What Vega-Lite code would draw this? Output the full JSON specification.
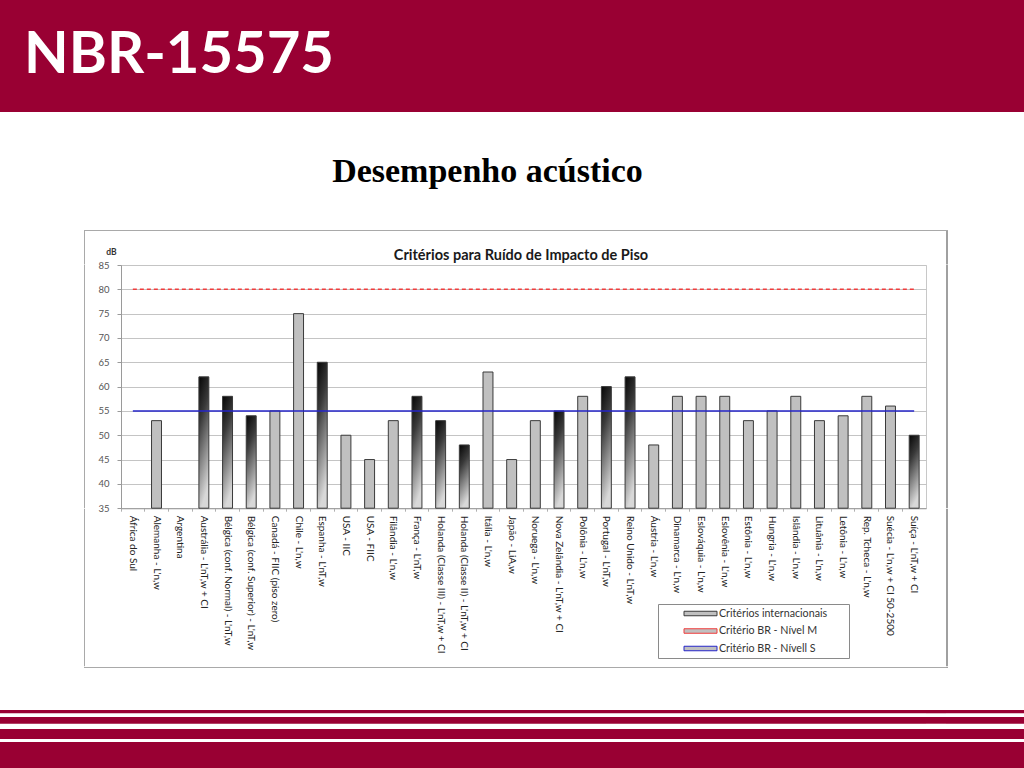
{
  "$schema": "https://vega.github.io/schema/vega-lite/v6.json",
  "padding": 0,
  "background": "#ffffff",
  "config": {"view": {"stroke": null}, "font": "Lato"},
  "datasets": {
    "criterios": [
      {"pais": "África do Sul", "valor": null, "nivel_M": 80, "nivel_S": 55},
      {"pais": "Alemanha - L'n,w", "valor": 53, "nivel_M": 80, "nivel_S": 55},
      {"pais": "Argentina", "valor": null, "nivel_M": 80, "nivel_S": 55},
      {"pais": "Austrália - L'nT,w + CI", "valor": 62, "nivel_M": 80, "nivel_S": 55},
      {"pais": "Bélgica (conf. Normal) - L'nT,w", "valor": 58, "nivel_M": 80, "nivel_S": 55},
      {"pais": "Bélgica (conf. Superior) - L'nT,w", "valor": 54, "nivel_M": 80, "nivel_S": 55},
      {"pais": "Canadá - FIIC (piso zero)", "valor": 55, "nivel_M": 80, "nivel_S": 55},
      {"pais": "Chile - L'n,w", "valor": 75, "nivel_M": 80, "nivel_S": 55},
      {"pais": "Espanha - L'nT,w", "valor": 65, "nivel_M": 80, "nivel_S": 55},
      {"pais": "USA - IIC", "valor": 50, "nivel_M": 80, "nivel_S": 55},
      {"pais": "USA - FIIC", "valor": 45, "nivel_M": 80, "nivel_S": 55},
      {"pais": "Filândia - L'n,w", "valor": 53, "nivel_M": 80, "nivel_S": 55},
      {"pais": "França - L'nT,w", "valor": 58, "nivel_M": 80, "nivel_S": 55},
      {"pais": "Holanda (Classe III) - L'nT,w + CI", "valor": 53, "nivel_M": 80, "nivel_S": 55},
      {"pais": "Holanda (Classe II) - L'nT,w + CI", "valor": 48, "nivel_M": 80, "nivel_S": 55},
      {"pais": "Itália - L'n,w", "valor": 63, "nivel_M": 80, "nivel_S": 55},
      {"pais": "Japão - LiA,w", "valor": 45, "nivel_M": 80, "nivel_S": 55},
      {"pais": "Noruega - L'n,w", "valor": 53, "nivel_M": 80, "nivel_S": 55},
      {"pais": "Nova Zelândia - L'nT,w + CI", "valor": 55, "nivel_M": 80, "nivel_S": 55},
      {"pais": "Polônia - L'n,w", "valor": 58, "nivel_M": 80, "nivel_S": 55},
      {"pais": "Portugal - L'nT,w", "valor": 60, "nivel_M": 80, "nivel_S": 55},
      {"pais": "Reino Unido - L'nT,w", "valor": 62, "nivel_M": 80, "nivel_S": 55},
      {"pais": "Áustria - L'n,w", "valor": 48, "nivel_M": 80, "nivel_S": 55},
      {"pais": "Dinamarca - L'n,w", "valor": 58, "nivel_M": 80, "nivel_S": 55},
      {"pais": "Eslováquia - L'n,w", "valor": 58, "nivel_M": 80, "nivel_S": 55},
      {"pais": "Eslovênia - L'n,w", "valor": 58, "nivel_M": 80, "nivel_S": 55},
      {"pais": "Estônia - L'n,w", "valor": 53, "nivel_M": 80, "nivel_S": 55},
      {"pais": "Hungria - L'n,w", "valor": 55, "nivel_M": 80, "nivel_S": 55},
      {"pais": "Islândia - L'n,w", "valor": 58, "nivel_M": 80, "nivel_S": 55},
      {"pais": "Lituânia - L'n,w", "valor": 53, "nivel_M": 80, "nivel_S": 55},
      {"pais": "Letônia - L'n,w", "valor": 54, "nivel_M": 80, "nivel_S": 55},
      {"pais": "Rep. Tcheca - L'n,w", "valor": 58, "nivel_M": 80, "nivel_S": 55},
      {"pais": "Suécia - L'n,w + CI 50-2500", "valor": 56, "nivel_M": 80, "nivel_S": 55},
      {"pais": "Suíça - L'nT,w + CI", "valor": 50, "nivel_M": 80, "nivel_S": 55}
    ]
  },
  "columns": 7,
  "align": "each",
  "spacing": 0,
  "bounds": "flush",
  "concat": [
    {"width": 84, "height": 112, "view": {"fill": "#990033", "stroke": null}, "data": {"values": []}, "mark": "rect"},
    {"width": 1, "height": 112, "view": {"fill": "#990033", "stroke": null}, "data": {"values": []}, "mark": "rect"},
    {"width": 36, "height": 112, "view": {"fill": "#990033", "stroke": null}, "data": {"values": []}, "mark": "rect"},
    {"width": 805, "height": 112, "view": {"fill": "#990033", "stroke": null}, "data": {"values": [{"texto": "NBR-15575"}]}, "mark": {"type": "text", "font": "Lato", "fontWeight": "bold", "fontSize": 58, "color": "#ffffff", "baseline": "alphabetic", "align": "center", "dy": 17, "dx": -344.5}, "encoding": {"text": {"field": "texto", "type": "nominal"}}},
    {"width": 20, "height": 112, "view": {"fill": "#990033", "stroke": null}, "data": {"values": []}, "mark": "rect"},
    {"width": 2, "height": 112, "view": {"fill": "#990033", "stroke": null}, "data": {"values": []}, "mark": "rect"},
    {"width": 76, "height": 112, "view": {"fill": "#990033", "stroke": null}, "data": {"values": []}, "mark": "rect"},

    {"width": 84, "height": 118, "data": {"values": []}, "mark": "rect"},
    {"width": 1, "height": 118, "data": {"values": []}, "mark": "rect"},
    {"width": 36, "height": 118, "data": {"values": []}, "mark": "rect"},
    {"width": 805, "height": 118, "data": {"values": [{"texto": "Desempenho acústico"}]}, "mark": {"type": "text", "font": "Liberation Serif", "fontWeight": "bold", "fontSize": 34, "color": "#000000", "baseline": "alphabetic", "align": "center", "dy": 10.7, "dx": -36}, "encoding": {"text": {"field": "texto", "type": "nominal"}}},
    {"width": 20, "height": 118, "data": {"values": []}, "mark": "rect"},
    {"width": 2, "height": 118, "data": {"values": []}, "mark": "rect"},
    {"width": 76, "height": 118, "data": {"values": []}, "mark": "rect"},

    {"width": 84, "height": 1, "data": {"values": []}, "mark": "rect"},
    {"width": 1, "height": 1, "view": {"fill": "#a9a9a9", "stroke": null}, "data": {"values": []}, "mark": "rect"},
    {"width": 36, "height": 1, "view": {"fill": "#a9a9a9", "stroke": null}, "data": {"values": []}, "mark": "rect"},
    {"width": 805, "height": 1, "view": {"fill": "#a9a9a9", "stroke": null}, "data": {"values": []}, "mark": "rect"},
    {"width": 20, "height": 1, "view": {"fill": "#a9a9a9", "stroke": null}, "data": {"values": []}, "mark": "rect"},
    {"width": 2, "height": 1, "view": {"fill": "#a9a9a9", "stroke": null}, "data": {"values": []}, "mark": "rect"},
    {"width": 76, "height": 1, "data": {"values": []}, "mark": "rect"},

    {"width": 84, "height": 33.5, "data": {"values": []}, "mark": "rect"},
    {"width": 1, "height": 33.5, "view": {"fill": "#a9a9a9", "stroke": null}, "data": {"values": []}, "mark": "rect"},
    {"width": 36, "height": 33.5, "data": {"values": []}, "mark": "rect"},
    {"width": 805, "height": 33.5, "data": {"values": [{"texto": "Critérios para Ruído de Impacto de Piso"}]}, "mark": {"type": "text", "font": "Lato", "fontWeight": "bold", "fontSize": 14.5, "color": "#1a1a1a", "baseline": "alphabetic", "align": "center", "dy": 12.25, "dx": -2.5}, "encoding": {"text": {"field": "texto", "type": "nominal"}}},
    {"width": 20, "height": 33.5, "data": {"values": []}, "mark": "rect"},
    {"width": 2, "height": 33.5, "view": {"fill": "#a0a0a0", "stroke": null}, "data": {"values": []}, "mark": "rect"},
    {"width": 76, "height": 33.5, "data": {"values": []}, "mark": "rect"},

    {"width": 84, "height": 243.2, "data": {"values": []}, "mark": "rect"},
    {"width": 1, "height": 243.2, "view": {"fill": "#a9a9a9", "stroke": null}, "data": {"values": []}, "mark": "rect"},
    {"width": 36, "height": 243.2, "data": {"values": []}, "mark": "rect"},
    {
      "width": 805,
      "height": 243.2,
      "view": {"stroke": "#c8c8c8"},
      "data": {"name": "criterios"},
      "encoding": {
        "x": {
          "field": "pais", "type": "nominal", "sort": null, "title": null,
          "scale": {
            "domain": ["África do Sul", "Alemanha - L'n,w", "Argentina", "Austrália - L'nT,w + CI", "Bélgica (conf. Normal) - L'nT,w", "Bélgica (conf. Superior) - L'nT,w", "Canadá - FIIC (piso zero)", "Chile - L'n,w", "Espanha - L'nT,w", "USA - IIC", "USA - FIIC", "Filândia - L'n,w", "França - L'nT,w", "Holanda (Classe III) - L'nT,w + CI", "Holanda (Classe II) - L'nT,w + CI", "Itália - L'n,w", "Japão - LiA,w", "Noruega - L'n,w", "Nova Zelândia - L'nT,w + CI", "Polônia - L'n,w", "Portugal - L'nT,w", "Reino Unido - L'nT,w", "Áustria - L'n,w", "Dinamarca - L'n,w", "Eslováquia - L'n,w", "Eslovênia - L'n,w", "Estônia - L'n,w", "Hungria - L'n,w", "Islândia - L'n,w", "Lituânia - L'n,w", "Letônia - L'n,w", "Rep. Tcheca - L'n,w", "Suécia - L'n,w + CI 50-2500", "Suíça - L'nT,w + CI"],
            "paddingInner": 0.58, "paddingOuter": 0.29
          },
          "axis": {"labelAngle": 90, "labelAlign": "left", "labelBaseline": "middle", "labelFont": "Lato", "labelFontSize": 10, "labelColor": "#222222", "labelPadding": 4, "labelLimit": 220, "labelOverlap": false, "tickSize": 3, "tickColor": "#b0b0b0", "domainColor": "#9a9a9a", "bandPosition": -0.69, "grid": false}
        }
      },
      "layer": [
        {
          "mark": {"type": "bar", "strokeWidth": 1},
          "encoding": {
            "y": {"field": "valor", "type": "quantitative", "title": "dB",
              "scale": {"domain": [35, 85], "nice": false, "zero": false},
              "axis": {"values": [35, 40, 45, 50, 55, 60, 65, 70, 75, 80, 85], "labelOverlap": false, "grid": true, "gridColor": "#c4c4c4", "gridWidth": 1, "domainColor": "#9a9a9a", "tickColor": "#9a9a9a", "tickSize": 4, "labelFont": "Lato", "labelFontSize": 9.5, "labelColor": "#555555", "labelPadding": 8, "titleAngle": 0, "titleX": -10, "titleY": -10.5, "titleAlign": "center", "titleBaseline": "alphabetic", "titleFont": "Lato", "titleFontSize": 8.5, "titleFontWeight": "bold", "titleColor": "#333333"}},
            "y2": {"datum": 35},
            "fill": {
              "condition": {"test": "indexof(datum.pais, \"L'nT\") >= 0", "value": {"gradient": "linear", "x1": 0, "y1": 0, "x2": 0.25, "y2": 1, "stops": [{"offset": 0, "color": "#050505"}, {"offset": 0.35, "color": "#3a3a3a"}, {"offset": 1, "color": "#d8d8d8"}]}},
              "value": "#c0c0c0"
            },
            "stroke": {
              "datum": "Critérios internacionais", "type": "nominal",
              "scale": {"domain": ["Critérios internacionais", "Critério BR - Nível M", "Critério BR - Nívell S"], "range": ["#3a3a3a", "#f03c3c", "#2424c8"]},
              "legend": {
                "orient": "none", "legendX": 658, "legendY": 604, "direction": "vertical",
                "title": "\u00a0", "titleOrient": "right", "titlePadding": 17.5, "titleFontSize": 10,
                "padding": 4, "rowPadding": 5.5, "strokeColor": "#8a8a8a", "fillColor": "#ffffff",
                "labelFont": "Lato", "labelFontSize": 10.7, "labelColor": "#333333", "labelOffset": 46,
                "symbolSize": 100, "symbolType": "M3.3,-0.45H9.9V0.45H3.3Z", "symbolStrokeWidth": 1
              }
            }
          }
        },
        {
          "mark": {"type": "line", "strokeDash": [4, 3], "strokeWidth": 1.6},
          "encoding": {
            "y": {"field": "nivel_M", "type": "quantitative", "title": "dB", "scale": {"domain": [35, 85], "nice": false, "zero": false},
              "axis": {"values": [35, 40, 45, 50, 55, 60, 65, 70, 75, 80, 85], "labelOverlap": false, "grid": true, "gridColor": "#c4c4c4", "gridWidth": 1, "domainColor": "#9a9a9a", "tickColor": "#9a9a9a", "tickSize": 4, "labelFont": "Lato", "labelFontSize": 9.5, "labelColor": "#555555", "labelPadding": 8, "titleAngle": 0, "titleX": -10, "titleY": -10.5, "titleAlign": "center", "titleBaseline": "alphabetic", "titleFont": "Lato", "titleFontSize": 8.5, "titleFontWeight": "bold", "titleColor": "#333333"}},
            "stroke": {"datum": "Critério BR - Nível M", "type": "nominal", "legend": null}
          }
        },
        {
          "mark": {"type": "line", "strokeWidth": 1.5},
          "encoding": {
            "y": {"field": "nivel_S", "type": "quantitative", "title": "dB", "scale": {"domain": [35, 85], "nice": false, "zero": false},
              "axis": {"values": [35, 40, 45, 50, 55, 60, 65, 70, 75, 80, 85], "labelOverlap": false, "grid": true, "gridColor": "#c4c4c4", "gridWidth": 1, "domainColor": "#9a9a9a", "tickColor": "#9a9a9a", "tickSize": 4, "labelFont": "Lato", "labelFontSize": 9.5, "labelColor": "#555555", "labelPadding": 8, "titleAngle": 0, "titleX": -10, "titleY": -10.5, "titleAlign": "center", "titleBaseline": "alphabetic", "titleFont": "Lato", "titleFontSize": 8.5, "titleFontWeight": "bold", "titleColor": "#333333"}},
            "stroke": {"datum": "Critério BR - Nívell S", "type": "nominal", "legend": null}
          }
        }
      ]
    },
    {"width": 20, "height": 243.2, "data": {"values": []}, "mark": "rect"},
    {"width": 2, "height": 243.2, "view": {"fill": "#a0a0a0", "stroke": null}, "data": {"values": []}, "mark": "rect"},
    {"width": 76, "height": 243.2, "data": {"values": []}, "mark": "rect"},

    {"width": 84, "height": 157.3, "data": {"values": []}, "mark": "rect"},
    {"width": 1, "height": 157.3, "view": {"fill": "#a9a9a9", "stroke": null}, "data": {"values": []}, "mark": "rect"},
    {"width": 36, "height": 157.3, "data": {"values": []}, "mark": "rect"},
    {"width": 805, "height": 157.3, "data": {"values": []}, "mark": "rect"},
    {"width": 20, "height": 157.3, "data": {"values": []}, "mark": "rect"},
    {"width": 2, "height": 157.3, "view": {"fill": "#a0a0a0", "stroke": null}, "data": {"values": []}, "mark": "rect"},
    {"width": 76, "height": 157.3, "data": {"values": []}, "mark": "rect"},

    {"width": 84, "height": 1, "data": {"values": []}, "mark": "rect"},
    {"width": 1, "height": 1, "view": {"fill": "#a9a9a9", "stroke": null}, "data": {"values": []}, "mark": "rect"},
    {"width": 36, "height": 1, "view": {"fill": "#a9a9a9", "stroke": null}, "data": {"values": []}, "mark": "rect"},
    {"width": 805, "height": 1, "view": {"fill": "#a9a9a9", "stroke": null}, "data": {"values": []}, "mark": "rect"},
    {"width": 20, "height": 1, "view": {"fill": "#a9a9a9", "stroke": null}, "data": {"values": []}, "mark": "rect"},
    {"width": 2, "height": 1, "view": {"fill": "#a0a0a0", "stroke": null}, "data": {"values": []}, "mark": "rect"},
    {"width": 76, "height": 1, "data": {"values": []}, "mark": "rect"},

    {"width": 84, "height": 41.7, "data": {"values": []}, "mark": "rect"},
    {"width": 1, "height": 41.7, "data": {"values": []}, "mark": "rect"},
    {"width": 36, "height": 41.7, "data": {"values": []}, "mark": "rect"},
    {"width": 805, "height": 41.7, "data": {"values": []}, "mark": "rect"},
    {"width": 20, "height": 41.7, "data": {"values": []}, "mark": "rect"},
    {"width": 2, "height": 41.7, "data": {"values": []}, "mark": "rect"},
    {"width": 76, "height": 41.7, "data": {"values": []}, "mark": "rect"},

    {"width": 84, "height": 3.3, "view": {"fill": "#990033", "stroke": null}, "data": {"values": []}, "mark": "rect"},
    {"width": 1, "height": 3.3, "view": {"fill": "#990033", "stroke": null}, "data": {"values": []}, "mark": "rect"},
    {"width": 36, "height": 3.3, "view": {"fill": "#990033", "stroke": null}, "data": {"values": []}, "mark": "rect"},
    {"width": 805, "height": 3.3, "view": {"fill": "#990033", "stroke": null}, "data": {"values": []}, "mark": "rect"},
    {"width": 20, "height": 3.3, "view": {"fill": "#990033", "stroke": null}, "data": {"values": []}, "mark": "rect"},
    {"width": 2, "height": 3.3, "view": {"fill": "#990033", "stroke": null}, "data": {"values": []}, "mark": "rect"},
    {"width": 76, "height": 3.3, "view": {"fill": "#990033", "stroke": null}, "data": {"values": []}, "mark": "rect"},

    {"width": 84, "height": 2.3, "data": {"values": []}, "mark": "rect"},
    {"width": 1, "height": 2.3, "data": {"values": []}, "mark": "rect"},
    {"width": 36, "height": 2.3, "data": {"values": []}, "mark": "rect"},
    {"width": 805, "height": 2.3, "data": {"values": []}, "mark": "rect"},
    {"width": 20, "height": 2.3, "data": {"values": []}, "mark": "rect"},
    {"width": 2, "height": 2.3, "data": {"values": []}, "mark": "rect"},
    {"width": 76, "height": 2.3, "data": {"values": []}, "mark": "rect"},

    {"width": 84, "height": 6.7, "view": {"fill": "#990033", "stroke": null}, "data": {"values": []}, "mark": "rect"},
    {"width": 1, "height": 6.7, "view": {"fill": "#990033", "stroke": null}, "data": {"values": []}, "mark": "rect"},
    {"width": 36, "height": 6.7, "view": {"fill": "#990033", "stroke": null}, "data": {"values": []}, "mark": "rect"},
    {"width": 805, "height": 6.7, "view": {"fill": "#990033", "stroke": null}, "data": {"values": []}, "mark": "rect"},
    {"width": 20, "height": 6.7, "view": {"fill": "#990033", "stroke": null}, "data": {"values": []}, "mark": "rect"},
    {"width": 2, "height": 6.7, "view": {"fill": "#990033", "stroke": null}, "data": {"values": []}, "mark": "rect"},
    {"width": 76, "height": 6.7, "view": {"fill": "#990033", "stroke": null}, "data": {"values": []}, "mark": "rect"},

    {"width": 84, "height": 4.3, "data": {"values": []}, "mark": "rect"},
    {"width": 1, "height": 4.3, "data": {"values": []}, "mark": "rect"},
    {"width": 36, "height": 4.3, "data": {"values": []}, "mark": "rect"},
    {"width": 805, "height": 4.3, "data": {"values": []}, "mark": "rect"},
    {"width": 20, "height": 4.3, "data": {"values": []}, "mark": "rect"},
    {"width": 2, "height": 4.3, "data": {"values": []}, "mark": "rect"},
    {"width": 76, "height": 4.3, "data": {"values": []}, "mark": "rect"},

    {"width": 84, "height": 10, "view": {"fill": "#990033", "stroke": null}, "data": {"values": []}, "mark": "rect"},
    {"width": 1, "height": 10, "view": {"fill": "#990033", "stroke": null}, "data": {"values": []}, "mark": "rect"},
    {"width": 36, "height": 10, "view": {"fill": "#990033", "stroke": null}, "data": {"values": []}, "mark": "rect"},
    {"width": 805, "height": 10, "view": {"fill": "#990033", "stroke": null}, "data": {"values": []}, "mark": "rect"},
    {"width": 20, "height": 10, "view": {"fill": "#990033", "stroke": null}, "data": {"values": []}, "mark": "rect"},
    {"width": 2, "height": 10, "view": {"fill": "#990033", "stroke": null}, "data": {"values": []}, "mark": "rect"},
    {"width": 76, "height": 10, "view": {"fill": "#990033", "stroke": null}, "data": {"values": []}, "mark": "rect"},

    {"width": 84, "height": 3, "data": {"values": []}, "mark": "rect"},
    {"width": 1, "height": 3, "data": {"values": []}, "mark": "rect"},
    {"width": 36, "height": 3, "data": {"values": []}, "mark": "rect"},
    {"width": 805, "height": 3, "data": {"values": []}, "mark": "rect"},
    {"width": 20, "height": 3, "data": {"values": []}, "mark": "rect"},
    {"width": 2, "height": 3, "data": {"values": []}, "mark": "rect"},
    {"width": 76, "height": 3, "data": {"values": []}, "mark": "rect"},

    {"width": 84, "height": 30.7, "view": {"fill": "#990033", "stroke": null}, "data": {"values": []}, "mark": "rect"},
    {"width": 1, "height": 30.7, "view": {"fill": "#990033", "stroke": null}, "data": {"values": []}, "mark": "rect"},
    {"width": 36, "height": 30.7, "view": {"fill": "#990033", "stroke": null}, "data": {"values": []}, "mark": "rect"},
    {"width": 805, "height": 30.7, "view": {"fill": "#990033", "stroke": null}, "data": {"values": []}, "mark": "rect"},
    {"width": 20, "height": 30.7, "view": {"fill": "#990033", "stroke": null}, "data": {"values": []}, "mark": "rect"},
    {"width": 2, "height": 30.7, "view": {"fill": "#990033", "stroke": null}, "data": {"values": []}, "mark": "rect"},
    {"width": 76, "height": 30.7, "view": {"fill": "#990033", "stroke": null}, "data": {"values": []}, "mark": "rect"}
  ]
}
